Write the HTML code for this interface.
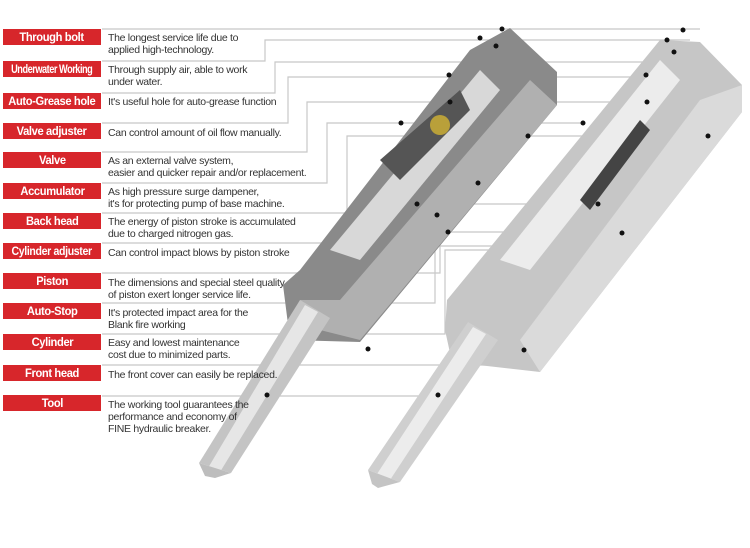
<!DOCTYPE html>
<html><head><meta charset="utf-8"><style>
body{margin:0;background:#fff;width:750px;height:548px;overflow:hidden;position:relative;font-family:"Liberation Sans",sans-serif}
.l{position:absolute;left:3px;width:98px;height:16px;background:#d7262b;color:#fff;font-weight:bold;font-size:12px;line-height:16px;text-align:center;letter-spacing:-0.4px;white-space:nowrap}
.l span{display:inline-block;transform:scaleX(0.93);transform-origin:center}
.l span.n{transform:scaleX(0.88)}
.l span.w{font-size:11.5px;letter-spacing:-0.6px;transform:scaleX(0.8);margin-left:-20px;margin-right:-20px}
.d{position:absolute;left:108px;font-size:10.5px;line-height:12px;color:#333;letter-spacing:-0.3px;white-space:nowrap}
svg{position:absolute;left:0;top:0}
</style></head><body>
<svg width="750" height="548">
<g fill="none" stroke="#c8c8c8" stroke-width="1.2">
<polyline points="102,29 700,29"/>
<polyline points="102,61 265,61 265,40 690,40"/>
<polyline points="102,93 275,93 275,62 680,62"/>
<polyline points="102,123 288,123 288,77 650,77"/>
<polyline points="102,152 307,152 307,102 650,102"/>
<polyline points="102,183 327,183 327,123 585,123"/>
<polyline points="102,213 347,213 347,136 710,136"/>
<polyline points="102,243 370,243 370,204 600,204"/>
<polyline points="102,273 440,273 440,232 625,232"/>
<polyline points="102,303 435,303 435,246 620,246"/>
<polyline points="102,334 445,334 445,250 625,250"/>
<polyline points="102,365 530,365 530,350"/>
<polyline points="102,396 440,396"/>
</g>
<polygon points="283,285 290,340 360,342 557,105 557,72 510,28 470,50 300,270" fill="#8a8a8a"/>
<polygon points="300,300 320,330 360,340 557,105 530,80 340,300" fill="#b0b0b0"/>
<polygon points="330,250 360,260 500,90 480,70" fill="#d8d8d8"/>
<polygon points="199,463 300,300 330,318 231,473" fill="#c4c4c4"/>
<polygon points="208,468 305,305 318,312 220,472" fill="#e6e6e6"/>
<polygon points="199,463 231,473 215,478 205,476" fill="#bdbdbd"/>
<polygon points="380,160 460,90 470,110 400,180" fill="#555"/>
<circle cx="440" cy="125" r="10" fill="#b9a03a"/>
<polygon points="445,330 447,300 470,272 660,40 700,42 742,85 742,112 540,372 452,362" fill="#c6c6c6"/>
<polygon points="540,372 742,112 742,85 700,100 520,340" fill="#dadada"/>
<polygon points="500,260 530,270 680,80 660,60" fill="#ececec"/>
<polygon points="580,200 640,120 650,130 590,210" fill="#444"/>
<polygon points="368,470 468,322 498,340 400,482" fill="#cfcfcf"/>
<polygon points="377,474 473,327 486,334 390,480" fill="#ececec"/>
<polygon points="368,470 400,482 378,488 372,484" fill="#c4c4c4"/>
<g fill="#111">
<circle cx="502" cy="29" r="2.5"/><circle cx="683" cy="30" r="2.5"/>
<circle cx="480" cy="38" r="2.5"/><circle cx="667" cy="40" r="2.5"/>
<circle cx="496" cy="46" r="2.5"/><circle cx="674" cy="52" r="2.5"/>
<circle cx="449" cy="75" r="2.5"/><circle cx="646" cy="75" r="2.5"/>
<circle cx="450" cy="102" r="2.5"/><circle cx="647" cy="102" r="2.5"/>
<circle cx="401" cy="123" r="2.5"/><circle cx="583" cy="123" r="2.5"/>
<circle cx="528" cy="136" r="2.5"/><circle cx="708" cy="136" r="2.5"/>
<circle cx="478" cy="183" r="2.5"/><circle cx="598" cy="204" r="2.5"/>
<circle cx="417" cy="204" r="2.5"/><circle cx="437" cy="215" r="2.5"/>
<circle cx="622" cy="233" r="2.5"/><circle cx="448" cy="232" r="2.5"/>
<circle cx="368" cy="349" r="2.5"/><circle cx="524" cy="350" r="2.5"/>
<circle cx="267" cy="395" r="2.5"/><circle cx="438" cy="395" r="2.5"/>
</g>
</svg>
<div class="l" style="top:29px"><span>Through bolt</span></div><div class="d" style="top:32px">The longest service life due to<br>applied high-technology.</div>
<div class="l" style="top:61px"><span class="w">Underwater Working</span></div><div class="d" style="top:64px">Through supply air, able to work<br>under water.</div>
<div class="l" style="top:93px"><span>Auto-Grease hole</span></div><div class="d" style="top:96px">It's useful hole for auto-grease function</div>
<div class="l" style="top:123px"><span>Valve adjuster</span></div><div class="d" style="top:127px">Can control amount of oil flow manually.</div>
<div class="l" style="top:152px"><span>Valve</span></div><div class="d" style="top:155px">As an external valve system,<br>easier and quicker repair and/or replacement.</div>
<div class="l" style="top:183px"><span>Accumulator</span></div><div class="d" style="top:186px">As high pressure surge dampener,<br>it's for protecting pump of base machine.</div>
<div class="l" style="top:213px"><span>Back head</span></div><div class="d" style="top:216px">The energy of piston stroke is accumulated<br>due to charged nitrogen gas.</div>
<div class="l" style="top:243px"><span class="n">Cylinder adjuster</span></div><div class="d" style="top:247px">Can control impact blows by piston stroke</div>
<div class="l" style="top:273px"><span>Piston</span></div><div class="d" style="top:277px">The dimensions and special steel quality<br>of piston exert longer service life.</div>
<div class="l" style="top:303px"><span>Auto-Stop</span></div><div class="d" style="top:307px">It's protected impact area for the<br>Blank fire working</div>
<div class="l" style="top:334px"><span>Cylinder</span></div><div class="d" style="top:337px">Easy and lowest maintenance<br>cost due to minimized parts.</div>
<div class="l" style="top:365px"><span>Front head</span></div><div class="d" style="top:369px">The front cover can easily be replaced.</div>
<div class="l" style="top:395px"><span>Tool</span></div><div class="d" style="top:399px">The working tool guarantees the<br>performance and economy of<br>FINE hydraulic breaker.</div>
</body></html>
